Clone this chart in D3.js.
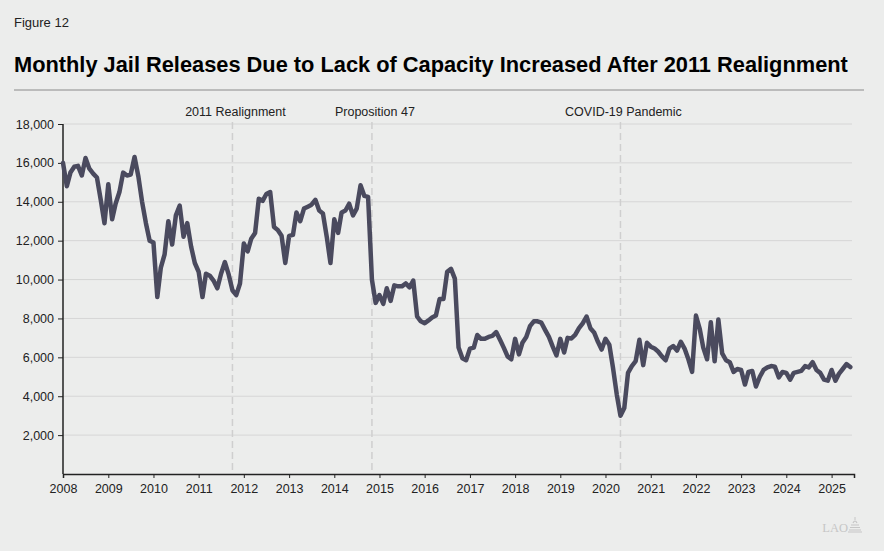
<!DOCTYPE html>
<html>
<head>
<meta charset="utf-8">
<script src="https://cdn.jsdelivr.net/npm/d3@7"></script>
<style>
  body { margin: 0; background: #ecedec; }
  svg { display: block; font-family: "Liberation Sans", Arial, sans-serif; }
</style>
</head>
<body>
<svg id="chart" width="884" height="551"></svg>
<script>
// monthly releases, Jan 2008 .. Jun 2025
var releases = [
  16000, 14800, 15500, 15800, 15850, 15350, 16250, 15700, 15450, 15250, 14100, 12900,
  14900, 13100, 13900, 14500, 15500, 15350, 15400, 16300, 15300, 14000, 12900, 12000,
  11900, 9100, 10600, 11300, 13000, 11800, 13300, 13800, 12200, 12900, 11700, 10850,
  10400, 9100, 10300, 10200, 9950, 9550, 10300, 10900, 10250, 9450, 9200, 9800,
  11850, 11450, 12100, 12400, 14150, 14050, 14400, 14500, 12700, 12550, 12250, 10850,
  12250, 12300, 13450, 13000, 13650, 13750, 13850, 14100, 13550, 13400, 12200, 10850,
  13100, 12400, 13450, 13550, 13900, 13300, 13650, 14850, 14300, 14250, 10000, 8800,
  9200, 8750, 9550, 8900, 9700, 9650, 9650, 9800, 9600, 9950, 8100, 7850,
  7750, 7900, 8050, 8150, 9000, 9000, 10400, 10550, 10050, 6500, 5950, 5850,
  6450, 6500, 7150, 6950, 6950, 7050, 7100, 7300, 6900, 6500, 6050, 5900,
  6950, 6150, 6750, 7050, 7600, 7850, 7850, 7780, 7400, 7050, 6550, 6100,
  6950, 6250, 7000, 6970, 7150, 7500, 7750, 8100, 7500, 7280, 6800, 6400,
  6950, 6650, 5500, 4100, 3000, 3400, 5200, 5550, 5800, 6900, 5600, 6750,
  6550, 6450, 6300, 6050, 5850, 6450, 6580, 6350, 6800, 6450, 5900, 5250,
  8150, 7450, 6500, 5900, 7800, 5800, 7950, 6200, 5850, 5750, 5250, 5400,
  5350, 4600, 5250, 5300, 4500, 5000, 5350, 5480, 5550, 5520, 4970, 5250,
  5200, 4850, 5200, 5250, 5300, 5550, 5480, 5750, 5350, 5200, 4850, 4800,
  5350, 4800, 5150, 5400, 5650, 5500
];
var yTicks = [2000, 4000, 6000, 8000, 10000, 12000, 14000, 16000, 18000];
var yearTicks = d3.range(2008, 2026);
var events = [
  { label: "2011 Realignment", date: new Date(2011, 9, 1) },
  { label: "Proposition 47", date: new Date(2014, 10, 1) },
  { label: "COVID-19 Pandemic", date: new Date(2020, 4, 1) }
];

var svg = d3.select("#chart");
var data = releases.map((v, i) => ({ date: new Date(2008, i, 1), value: v }));

var x = d3.scaleTime()
    .domain([new Date(2008, 0, 1), new Date(2025, 6, 1)])
    .range([63, 854]);
var y = d3.scaleLinear()
    .domain([0, 18000])
    .range([474, 124]);

// header
svg.append("text").attr("x", 14).attr("y", 27)
  .attr("font-size", 13).attr("fill", "#222").text("Figure 12");
svg.append("text").attr("x", 14).attr("y", 72)
  .attr("font-size", 21.8).attr("font-weight", "bold").attr("fill", "#000")
  .text("Monthly Jail Releases Due to Lack of Capacity Increased After 2011 Realignment");
svg.append("line").attr("x1", 14).attr("x2", 864).attr("y1", 90).attr("y2", 90)
  .attr("stroke", "#8a8a8a").attr("stroke-width", 1);

// gridlines
svg.append("g").selectAll("line")
  .data(yTicks).enter().append("line")
    .attr("x1", 63).attr("x2", 852)
    .attr("y1", d => y(d)).attr("y2", d => y(d))
    .attr("stroke", "#d6d6d6").attr("stroke-width", 1);

// event markers
var ev = svg.append("g");
ev.selectAll("line").data(events).enter().append("line")
  .attr("x1", d => x(d.date)).attr("x2", d => x(d.date))
  .attr("y1", 122).attr("y2", 474)
  .attr("stroke", "#cfcfcf").attr("stroke-width", 1.5)
  .attr("stroke-dasharray", "7,4");
ev.selectAll("text").data(events).enter().append("text")
  .attr("x", d => x(d.date) + 3).attr("y", 116)
  .attr("text-anchor", "middle").attr("font-size", 12.5).attr("fill", "#222")
  .text(d => d.label);

// y axis
var yAxis = svg.append("g")
  .attr("transform", "translate(63,0)")
  .call(d3.axisLeft(y).tickValues(yTicks).tickSize(5).tickPadding(4)
    .tickFormat(d3.format(",")));
yAxis.select(".domain").remove();
yAxis.selectAll("text").attr("font-size", 12.5).attr("fill", "#222")
  .attr("font-family", "Liberation Sans, Arial, sans-serif");
yAxis.selectAll(".tick line").attr("stroke", "#222");
svg.append("line").attr("x1", 63).attr("x2", 63).attr("y1", 124).attr("y2", 474)
  .attr("stroke", "#222").attr("stroke-width", 1.5);

// x axis
var xAxis = svg.append("g")
  .attr("transform", "translate(0,474)")
  .call(d3.axisBottom(x).tickValues(yearTicks.map(yr => new Date(yr, 0, 1)))
    .tickSize(4).tickPadding(6).tickFormat(d3.timeFormat("%Y")));
xAxis.select(".domain").attr("stroke", "#222").attr("stroke-width", 1.5);
xAxis.selectAll(".tick line").attr("stroke", "#222");
xAxis.selectAll("text").attr("font-size", 12.5).attr("fill", "#222")
  .attr("font-family", "Liberation Sans, Arial, sans-serif");

// the line
var line = d3.line()
  .x(d => x(d.date))
  .y(d => y(d.value));
svg.append("path")
  .datum(data)
  .attr("fill", "none")
  .attr("stroke", "#4a4a5e")
  .attr("stroke-width", 4.5)
  .attr("stroke-linejoin", "round")
  .attr("stroke-linecap", "round")
  .attr("d", line);

// logo
var logo = svg.append("g").attr("fill", "#c6c6c6").attr("stroke", "#c6c6c6");
logo.append("text").attr("x", 848).attr("y", 532).attr("text-anchor", "end")
  .attr("stroke", "none")
  .attr("font-family", "Liberation Serif, serif").attr("font-size", 12.5)
  .text("LAO");
logo.append("path").attr("fill", "none").attr("stroke-width", 1.2)
  .attr("d", "M853,523 Q855,519 857,523 M851,525 H859 M850,527.5 H860 M849,530 H861 M848,532 H862");
logo.append("line").attr("x1", 855).attr("x2", 855).attr("y1", 517).attr("y2", 520)
  .attr("stroke-width", 1);
</script>
</body>
</html>
